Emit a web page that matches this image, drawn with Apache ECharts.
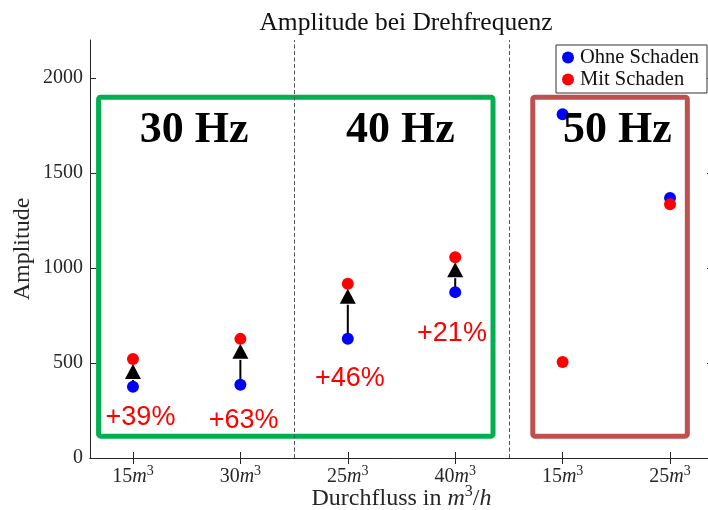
<!DOCTYPE html>
<html>
<head>
<meta charset="utf-8">
<script src="https://cdn.jsdelivr.net/npm/echarts@6/dist/echarts.min.js"></script>
<style>
  html, body { margin: 0; padding: 0; background: #fff; }
  #chart { width: 708px; height: 510px; }
</style>
</head>
<body>
<div id="chart"></div>
<script>
// Flow rates (m³) per measurement position, grouped by rotation frequency
const flowLabels = ['15', '30', '25', '40', '15', '25'];
const positions = [1, 2, 3, 4, 5, 6];
// Amplitude without / with damage
const ohneSchaden = [375, 385, 628, 873, 1809, 1368];
const mitSchaden = [521, 627, 917, 1057, 505, 1335];
// Positions that get an increase arrow + percentage (30 Hz and 40 Hz groups)
const arrowPositions = [0, 1, 2, 3];
// Percentage label anchors (data units)
const pctLabelX = [1.07, 2.03, 3.02, 3.97];
const pctLabelY = [212, 196, 418, 655];
// Frequency groups
const hzNames = ['30 Hz', '40 Hz', '50 Hz'];
const hzLabelX = [1.57, 3.49, 5.51];
const hzLabelY = [1722, 1722, 1722];
// Group frames [x0, y0, x1, y1] in data units
const groupBoxes = [[0.68, 115, 4.352, 1899], [4.722, 115, 6.161, 1899]];
const groupBoxColors = ['#00b050', '#c0504d'];
// Group separators
const separators = [2.5, 4.5];
const yTicks = [0, 500, 1000, 1500, 2000];

const serif = '"Liberation Serif", "Times New Roman", serif';
const axisColor = '#262626';

const chart = echarts.init(document.getElementById('chart'), null, { renderer: 'canvas' });

const richTick = {
  n: { fontFamily: serif, fontSize: 20, color: axisColor },
  i: { fontFamily: serif, fontSize: 20, fontStyle: 'italic', color: axisColor },
  s: { fontFamily: serif, fontSize: 14, color: axisColor, padding: [0, 0, 12, 0] }
};
const richName = {
  n: { fontFamily: serif, fontSize: 24, color: axisColor },
  i: { fontFamily: serif, fontSize: 24, fontStyle: 'italic', color: axisColor },
  s: { fontFamily: serif, fontSize: 16, color: axisColor, padding: [0, 0, 14, 0] }
};

const pctData = arrowPositions.map((k, j) => ({
  value: [pctLabelX[j], pctLabelY[j]],
  pct: Math.round((mitSchaden[k] / ohneSchaden[k] - 1) * 100)
}));

chart.setOption({
  animation: false,
  title: {
    text: 'Amplitude bei Drehfrequenz',
    left: 401,
    textAlign: 'center',
    top: 5,
    textStyle: { fontFamily: serif, fontSize: 25.5, fontWeight: 'normal', color: '#111' }
  },
  legend: {
    data: ['Ohne Schaden', 'Mit Schaden'],
    orient: 'vertical',
    left: 556,
    top: 45,
    padding: [2, 8, 3, 6],
    itemGap: 1,
    itemWidth: 14,
    itemHeight: 12,
    backgroundColor: '#fff',
    borderColor: '#333',
    borderWidth: 1,
    borderRadius: 0,
    z: 20,
    itemStyle: { opacity: 1 },
    textStyle: { fontFamily: serif, fontSize: 20.5, lineHeight: 20, color: '#111' }
  },
  grid: { left: 90, right: -5, top: 40, bottom: 52, outerBoundsMode: 'none', containLabel: false },
  xAxis: [{
    type: 'value',
    min: 0.6,
    max: 6.4,
    position: 'bottom',
    name: '{n|Durchfluss in }{i|m}{s|3}{n|/}{i|h}',
    nameLocation: 'middle',
    nameGap: 26,
    nameMoveOverlap: false,
    nameTextStyle: { rich: richName },
    axisLine: { lineStyle: { color: axisColor, width: 1 } },
    axisTick: { inside: true, length: 6, customValues: positions, lineStyle: { color: axisColor } },
    axisLabel: {
      customValues: positions,
      margin: 6,
      formatter: v => '{n|' + flowLabels[Math.round(v) - 1] + '}{i|m}{s|3}',
      rich: richTick
    },
    splitLine: { show: false }
  }, {
    type: 'value',
    min: 0.6,
    max: 6.4,
    position: 'top',
    axisLine: { lineStyle: { color: axisColor, width: 1 } },
    axisTick: { inside: true, length: 6, customValues: positions, lineStyle: { color: axisColor } },
    axisLabel: { show: false },
    splitLine: { show: false }
  }],
  yAxis: [{
    type: 'value',
    min: 0,
    max: 2200,
    position: 'left',
    name: 'Amplitude',
    nameLocation: 'middle',
    nameGap: 55,
    nameMoveOverlap: false,
    nameTextStyle: { fontFamily: serif, fontSize: 24, color: axisColor },
    axisLine: { show: true, lineStyle: { color: axisColor, width: 1 } },
    axisTick: { show: true, inside: true, length: 6, customValues: yTicks, lineStyle: { color: axisColor } },
    axisLabel: { customValues: yTicks, margin: 7, fontFamily: serif, fontSize: 20, color: axisColor,
      formatter: v => String(v) },
    splitLine: { show: false }
  }, {
    type: 'value',
    min: 0,
    max: 2200,
    position: 'right',
    axisLine: { show: true, lineStyle: { color: axisColor, width: 1 } },
    axisTick: { show: true, inside: true, length: 6, customValues: yTicks, lineStyle: { color: axisColor } },
    axisLabel: { show: false },
    splitLine: { show: false }
  }],
  series: [
    {
      // group frames
      type: 'custom',
      silent: true,
      z: 1,
      data: groupBoxes,
      renderItem: (params, api) => {
        const p0 = api.coord([api.value(0), api.value(3)]);
        const p1 = api.coord([api.value(2), api.value(1)]);
        return {
          type: 'rect',
          shape: { x: p0[0], y: p0[1], width: p1[0] - p0[0], height: p1[1] - p0[1], r: 2 },
          style: { fill: 'none', stroke: groupBoxColors[params.dataIndex], lineWidth: 5, lineJoin: 'round' }
        };
      }
    },
    {
      // separators between frequency groups
      type: 'line',
      data: [],
      silent: true,
      z: 2,
      markLine: {
        silent: true,
        symbol: ['none', 'none'],
        label: { show: false },
        lineStyle: { color: '#555', width: 1, type: [4, 2.5] },
        data: separators.map(x => ({ xAxis: x }))
      }
    },
    {
      // increase arrows from undamaged to damaged amplitude
      type: 'custom',
      silent: true,
      z: 3,
      data: arrowPositions.map(k => [positions[k], ohneSchaden[k], mitSchaden[k]]),
      renderItem: (params, api) => {
        const x = api.value(0);
        const pb = api.coord([x, api.value(1)]);
        const pr = api.coord([x, api.value(2)]);
        const tipY = pr[1] + 5;
        const baseY = tipY + 15;
        return {
          type: 'group',
          children: [
            { type: 'line', shape: { x1: pb[0], y1: pb[1], x2: pb[0], y2: baseY + 1 },
              style: { stroke: '#000', lineWidth: 2 } },
            { type: 'polygon', shape: { points: [[pr[0], tipY], [pr[0] - 8, baseY], [pr[0] + 8, baseY]] },
              style: { fill: '#000' } }
          ]
        };
      }
    },
    {
      name: 'Ohne Schaden',
      type: 'scatter',
      symbol: 'circle',
      symbolSize: 12,
      z: 5,
      itemStyle: { color: '#0000ff', opacity: 1 },
      data: positions.map((x, i) => [x, ohneSchaden[i]])
    },
    {
      name: 'Mit Schaden',
      type: 'scatter',
      symbol: 'circle',
      symbolSize: 12,
      z: 5,
      itemStyle: { color: '#ff0000', opacity: 1 },
      data: positions.map((x, i) => [x, mitSchaden[i]])
    },
    {
      // percentage increase labels
      type: 'scatter',
      silent: true,
      symbolSize: 0,
      z: 6,
      itemStyle: { opacity: 1 },
      data: pctData,
      label: {
        show: true,
        position: 'inside',
        formatter: p => '+' + p.data.pct + '%',
        fontFamily: '"Liberation Sans", Arial, sans-serif',
        fontSize: 27,
        color: '#ff0000',
        opacity: 1
      }
    },
    {
      // frequency group titles
      type: 'scatter',
      silent: true,
      symbolSize: 0,
      z: 7,
      itemStyle: { opacity: 1 },
      data: hzNames.map((t, i) => ({ value: [hzLabelX[i], hzLabelY[i]], name: t })),
      label: {
        show: true,
        position: 'inside',
        formatter: p => p.name,
        fontFamily: serif,
        fontWeight: 'bold',
        fontSize: 44,
        color: '#000',
        opacity: 1
      }
    }
  ]
});
</script>
</body>
</html>
